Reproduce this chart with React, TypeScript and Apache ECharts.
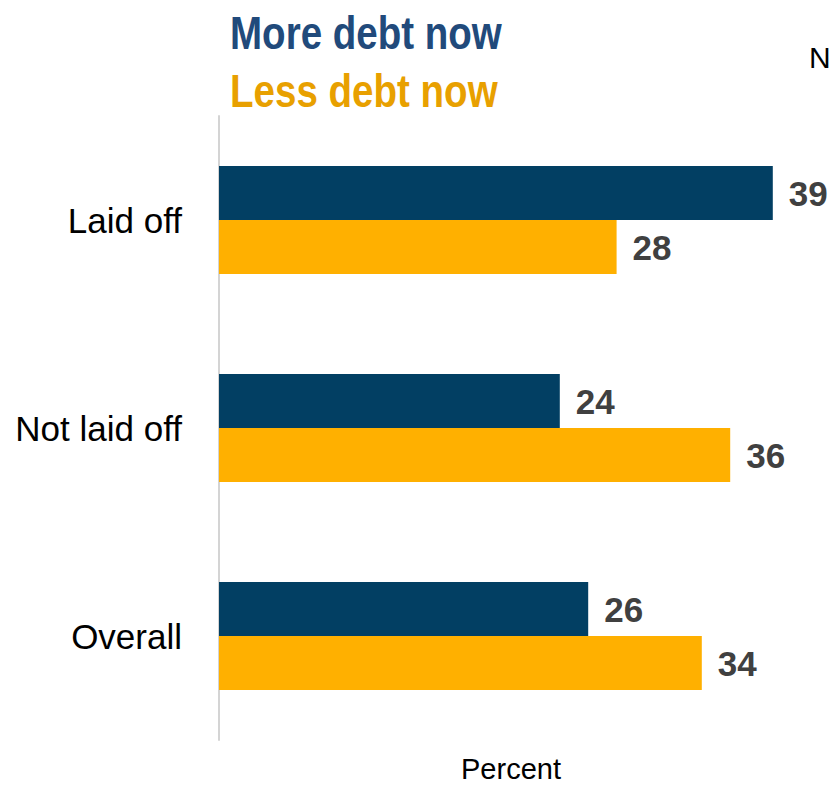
import React, { useEffect, useRef } from "react";
import * as echarts from "echarts";

// Survey groups and shares (percent)
const categories = ["Laid off", "Not laid off", "Overall"];
const moreDebt = [39, 24, 26];
const lessDebt = [28, 36, 34];
const seriesNames = ["More debt now", "Less debt now"];
const axisTitle = "Percent";
const cornerNote = "N";

const NAVY = "#023f63";
const GOLD = "#ffb000";
const SANS = "'Liberation Sans', Arial, Helvetica, sans-serif";

export default function App() {
  const ref = useRef<HTMLDivElement>(null);

  useEffect(() => {
    if (!ref.current) return;
    const chart = echarts.init(ref.current, null, { renderer: "svg" });

    const valueLabel = {
      show: true,
      position: "right",
      distance: 16,
      fontFamily: SANS,
      fontWeight: "bold",
      fontSize: 35,
      color: "#404040",
    };

    chart.setOption({
      animation: false,
      backgroundColor: "#ffffff",
      grid: { left: 219, right: 46, top: 116, bottom: 45, containLabel: false },
      xAxis: {
        type: "value",
        min: 0,
        max: 40,
        show: false,
      },
      yAxis: {
        type: "category",
        data: categories,
        inverse: true,
        axisLine: { show: true, lineStyle: { color: "#d4d4d4", width: 2 } },
        axisTick: { show: false },
        axisLabel: {
          margin: 37,
          fontFamily: SANS,
          fontSize: 35,
          color: "#000000",
        },
        splitLine: { show: false },
      },
      series: [
        {
          name: seriesNames[0],
          type: "bar",
          data: moreDebt,
          barWidth: 54,
          barGap: "0%",
          itemStyle: { color: NAVY },
          label: valueLabel,
        },
        {
          name: seriesNames[1],
          type: "bar",
          data: lessDebt,
          barWidth: 54,
          barGap: "0%",
          itemStyle: { color: GOLD },
          label: valueLabel,
        },
      ],
      graphic: [
        {
          type: "text",
          x: 230,
          y: 9,
          scaleX: 0.82,
          style: {
            text: seriesNames[0],
            fill: "#214a7b",
            font: `bold 47px ${SANS}`,
            textVerticalAlign: "top",
          },
        },
        {
          type: "text",
          x: 230,
          y: 67,
          scaleX: 0.82,
          style: {
            text: seriesNames[1],
            fill: "#e8a000",
            font: `bold 47px ${SANS}`,
            textVerticalAlign: "top",
          },
        },
        {
          type: "text",
          x: 809,
          y: 42,
          style: {
            text: cornerNote,
            fill: "#000000",
            font: `30px ${SANS}`,
            textVerticalAlign: "top",
          },
        },
        {
          type: "text",
          x: 511,
          y: 769,
          style: {
            text: axisTitle,
            fill: "#000000",
            font: `29px ${SANS}`,
            textAlign: "center",
            textVerticalAlign: "middle",
          },
        },
      ],
    });

    return () => chart.dispose();
  }, []);

  return (
    <div
      ref={ref}
      style={{ position: "absolute", left: 0, top: 0, width: 833, height: 785 }}
    />
  );
}
